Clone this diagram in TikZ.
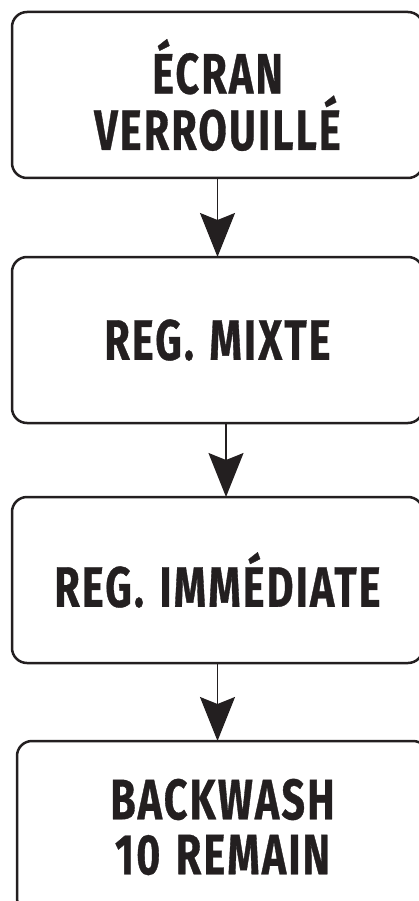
\documentclass[tikz,border=0pt]{standalone}
\usepackage{fontspec}
\newfontfamily\boxfont[FakeStretch=0.72, LetterSpace=4, WordSpace=1.3, FakeBold=0.6]{Fira Sans}
\usetikzlibrary{arrows.meta}
\definecolor{ink}{HTML}{231F20}
\tikzset{
  box/.style={draw=ink, line width=2.5pt, rounded corners=15pt, inner sep=0pt, outer sep=0pt,
    minimum width=411pt, minimum height=166pt, align=center, text=ink,
    font=\boxfont\bfseries\fontsize{57}{55}\selectfont},
  arr/.style={draw=ink, line width=1.5pt, -{Stealth[length=44pt,width=35pt,inset=7pt]}}
}
\begin{document}
\begin{tikzpicture}[x=1pt,y=-1pt]
\useasboundingbox (0,0) rectangle (418,901);
\node[box] (b1) at (217.5,95) {ÉCRAN\\VERROUILLÉ};
\node[box] (b2) at (217.5,340) {REG. MIXTE};
\node[box] (b3) at (217.5,580) {REG. IMMÉDIATE};
\node[box, minimum height=172pt] (b4) at (222.5,827) {BACKWASH\\10 REMAIN};
\draw[arr] (b1.south) -- (b2.north);
\draw[arr] ([xshift=8.5pt]b2.south) -- ([xshift=8.5pt]b3.north);
\draw[arr] (b3.south) -- ([xshift=-5pt]b4.north);
\end{tikzpicture}
\end{document}
